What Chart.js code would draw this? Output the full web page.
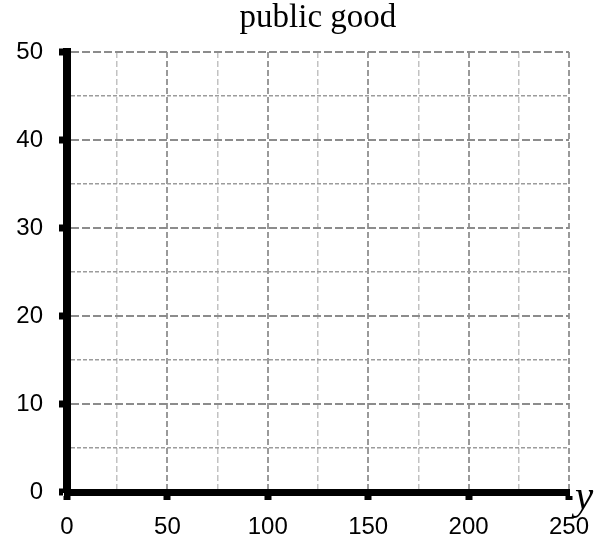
<!DOCTYPE html>
<html lang="en">
<head>
<meta charset="UTF-8">
<title>public good</title>
<style>
    html, body {
        margin: 0;
        padding: 0;
        background: #fff;
    }
    #wrap {
        width: 602px;
        height: 540px;
        position: relative;
    }
</style>
</head>
<body>
<div id="wrap"><canvas id="chart"></canvas></div>
<script src="https://cdn.jsdelivr.net/npm/chart.js"></script>
<script>
    // blank grid: only axes, ticks and gridlines
    const chartTitle = 'public good';
    const xAxisName = 'y';
    const xTicks = [0, 50, 100, 150, 200, 250];
    const xMinor = [25, 75, 125, 175, 225];
    const yTicks = [0, 10, 20, 30, 40, 50];
    const yMinor = [5, 15, 25, 35, 45];
    const points = [];

    let allTicks = (major, minor) => major.concat(minor).sort((a, b) => a - b).map(v => ({value: v}));
    let isMajor = (list, c) => c.tick && list.includes(c.tick.value);
    let atZero = c => c.tick && c.tick.value === 0;

    // draws the italic axis name at the right end of the x axis
    const axisName = {
        id: 'axisName',
        afterDraw(chart) {
            const x = chart.scales.x;
            const ctx = chart.ctx;
            ctx.save();
            ctx.font = 'italic 41px "Liberation Serif"';
            ctx.fillStyle = '#000';
            ctx.textAlign = 'left';
            ctx.textBaseline = 'alphabetic';
            ctx.fillText(xAxisName, x.right + 6, x.top + 17);
            ctx.restore();
        }
    };

    let chart = new Chart(document.getElementById('chart'), {
        type: 'scatter',
        data: {
            datasets: [{
                data: points
            }]
        },
        plugins: [axisName],
        options: {
            responsive: true,
            maintainAspectRatio: false,
            animation: false,
            layout: {
                padding: {left: 0, right: 31, top: 0, bottom: 0}
            },
            plugins: {
                legend: {display: false},
                tooltip: {enabled: false},
                title: {
                    display: true,
                    text: chartTitle,
                    fullSize: false,
                    color: '#000',
                    font: {family: '"Liberation Serif"', size: 33, weight: 'normal', lineHeight: 1},
                    padding: {top: 2, bottom: 17}
                }
            },
            scales: {
                x: {
                    type: 'linear',
                    min: xTicks[0],
                    max: xTicks[xTicks.length - 1],
                    afterBuildTicks: s => { s.ticks = allTicks(xTicks, xMinor); },
                    afterFit: s => { s.height = 48; },
                    ticks: {
                        autoSkip: false,
                        maxRotation: 0,
                        padding: 13,
                        color: '#000',
                        font: {family: '"Liberation Sans"', size: 24},
                        callback: v => xTicks.includes(v) ? String(v) : ''
                    },
                    grid: {
                        color: c => atZero(c) ? 'rgba(0,0,0,0)' : (isMajor(xTicks, c) ? '#9a9a9a' : '#c2c2c2'),
                        lineWidth: c => isMajor(xTicks, c) ? 2 : 1.5,
                        tickLength: 8,
                        tickWidth: c => isMajor(xTicks, c) ? 7 : 0,
                        tickColor: '#000'
                    },
                    border: {
                        color: '#000',
                        width: 7,
                        dash: c => c.tick ? [6, 3] : []
                    }
                },
                y: {
                    type: 'linear',
                    min: yTicks[0],
                    max: yTicks[yTicks.length - 1],
                    afterBuildTicks: s => { s.ticks = allTicks(yTicks, yMinor); },
                    afterFit: s => { s.width = 67; },
                    ticks: {
                        autoSkip: false,
                        padding: 16,
                        color: '#000',
                        font: {family: '"Liberation Sans"', size: 24},
                        callback: v => yTicks.includes(v) ? String(v) : ''
                    },
                    grid: {
                        color: c => atZero(c) ? 'rgba(0,0,0,0)' : (isMajor(yTicks, c) ? '#8c8c8c' : '#9c9c9c'),
                        lineWidth: c => isMajor(yTicks, c) ? 2 : 1.5,
                        tickLength: 8,
                        tickWidth: c => isMajor(yTicks, c) ? 7 : 0,
                        tickColor: '#000'
                    },
                    border: {
                        color: '#000',
                        width: 8,
                        dash: c => c.tick ? (isMajor(yTicks, c) ? [8, 3] : [4, 2]) : []
                    }
                }
            }
        }
    });
</script>
</body>
</html>
